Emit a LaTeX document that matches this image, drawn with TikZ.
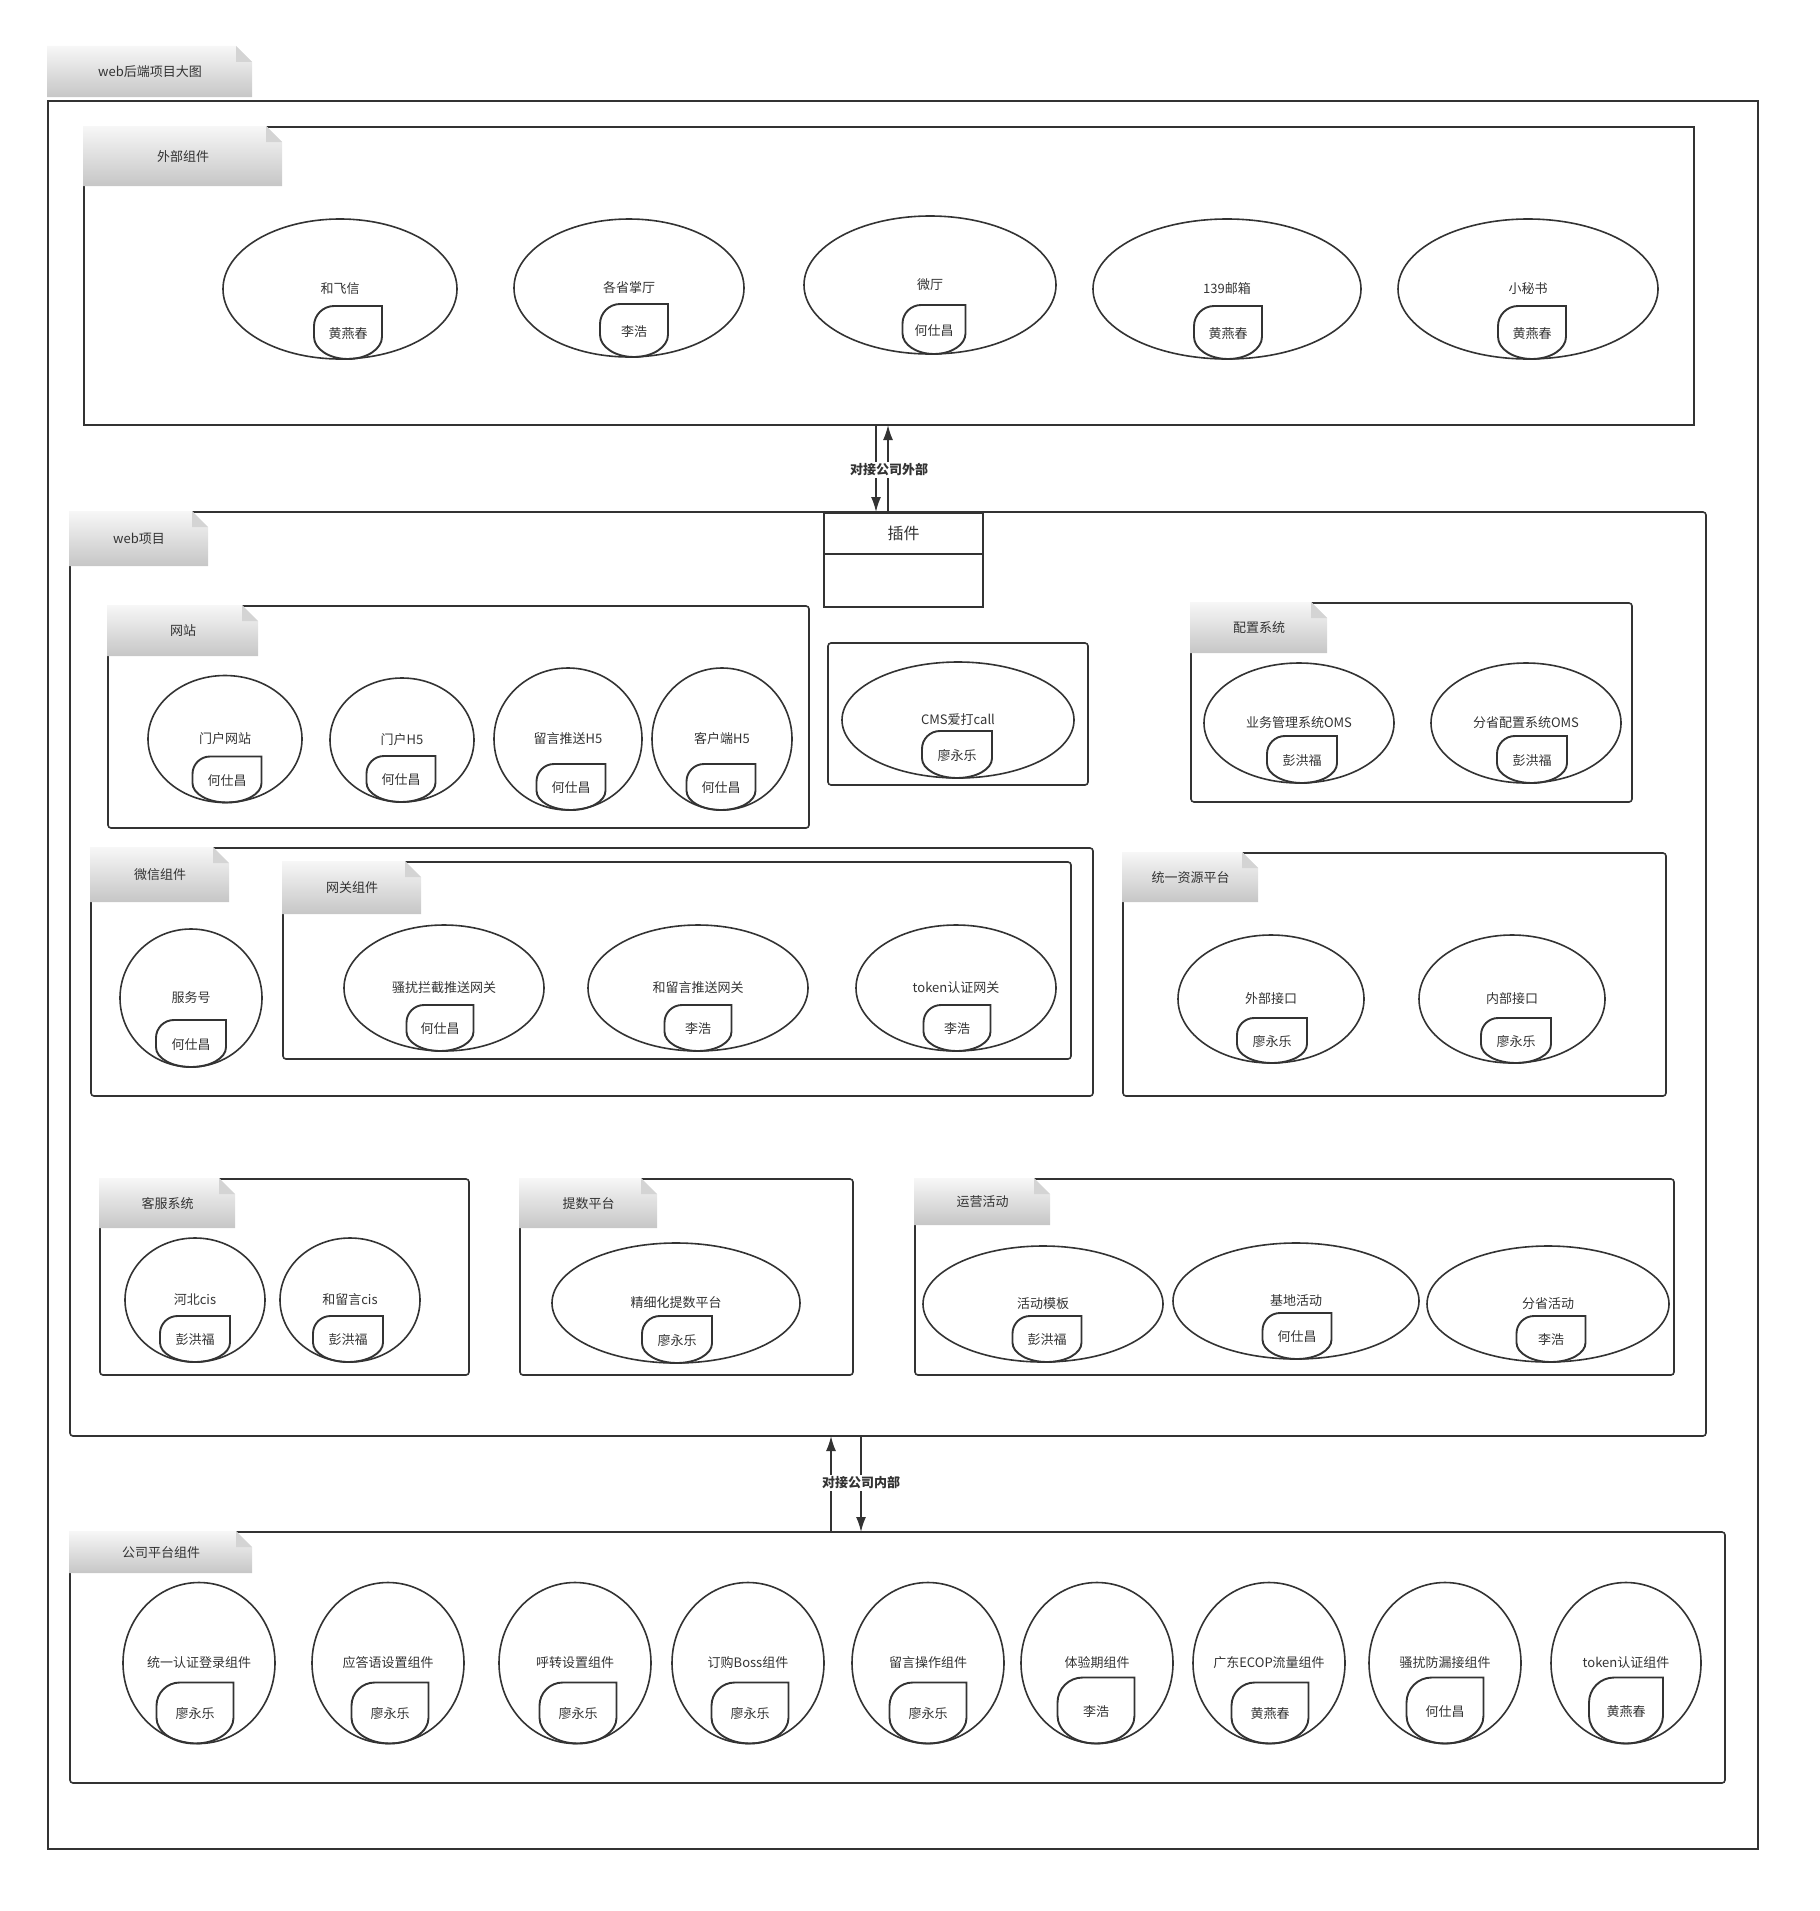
\documentclass[tikz,border=0pt]{standalone}
\usepackage{fontspec}
\setmainfont{Noto Sans CJK SC}
\usetikzlibrary{shapes.geometric,arrows.meta,calc}
\definecolor{ink}{RGB}{51,51,51}
\definecolor{tabtop}{RGB}{247,247,247}
\definecolor{tabbot}{RGB}{198,198,198}
\definecolor{tabfold}{RGB}{212,212,212}
\newcommand{\figfont}{\fontsize{13}{15}\selectfont}
\newcommand{\notetab}[6]{%
  \shade[top color=tabtop, bottom color=tabbot] ({#2-1},{#3-1}) -- ({#4-16},{#3-1}) -- (#4,{#3+15}) -- (#4,#5) -- ({#2-1},#5) -- cycle;
  \fill[tabfold] ({#4-16},{#3-1}) -- ({#4-16},{#3+15}) -- (#4,{#3+15}) -- cycle;
  \node[tabtext] (#1) at ({(#2+#4)/2},{(#3+#5)/2}) {#6};}
\newcommand{\owner}[5]{%
  \begin{scope}[shift={($(#1.south)+(#2,0)$)}]
  \draw[tagline] ({#3/2},{-#4}) -- ({#3/2},{-0.42*#4}) arc[start angle=0, end angle=180, x radius={#3/2}, y radius={0.42*#4}] -- ({-#3/2},{-0.62*#4}) arc[start angle=180, end angle=270, radius={0.38*#4}] -- cycle;
  \node[ownertext] (#1-o) at (0,{-#4/2+1}) {#5};
  \end{scope}}
\tikzset{
  frame/.style={draw=ink, line width=1.6pt, rounded corners=3pt, outer sep=0pt, inner sep=0pt, anchor=north west},
  comp/.style={ellipse, draw=ink, line width=1.6pt, outer sep=0pt, inner sep=0pt},
  tagline/.style={draw=ink, line width=1.9pt},
  ownertext/.style={font=\figfont, text=ink, inner sep=0pt},
  tabtext/.style={font=\figfont, text=ink, inner sep=0pt},
  plugbox/.style={draw=ink, line width=2pt, outer sep=0pt, inner sep=0pt, font=\fontsize{16}{18}\selectfont, text=ink},
  linklabel/.style={font=\figfont\bfseries, text=ink, fill=white, inner sep=1.5pt},
  arr/.style={draw=ink, line width=1.6pt, -{Latex[length=15pt,width=10pt]}},
  every label/.style={font=\figfont, text=ink, inner sep=0pt},
}
\begin{document}
\begin{tikzpicture}[x=1pt, y=-1pt]
\useasboundingbox (0,0) rectangle (1820,1911);
\node[frame, rounded corners=0pt, line width=2pt, minimum width=1710, minimum height=1748] (outer) at (48,101) {};
\node[frame, rounded corners=0pt, minimum width=1610, minimum height=298] (waibu) at (84,127) {};
\node[frame, minimum width=1636, minimum height=924] (web) at (70,512) {};
\node[frame, minimum width=701, minimum height=222] (wangzhan) at (108,606) {};
\node[frame, minimum width=260, minimum height=142] (cmsbox) at (828,643) {};
\node[frame, minimum width=441, minimum height=199] (peizhi) at (1191,603) {};
\node[frame, minimum width=1002, minimum height=248] (weixin) at (91,848) {};
\node[frame, minimum width=788, minimum height=197] (wangguan) at (283,862) {};
\node[frame, minimum width=543, minimum height=243] (ziyuan) at (1123,853) {};
\node[frame, minimum width=369, minimum height=196] (kefu) at (100,1179) {};
\node[frame, minimum width=333, minimum height=196] (tishu) at (520,1179) {};
\node[frame, minimum width=759, minimum height=196] (yunying) at (915,1179) {};
\node[frame, minimum width=1655, minimum height=251] (gongsi) at (70,1532) {};

\notetab{t-title}{48}{47}{252}{97}{web后端项目大图}
\notetab{t-waibu}{84}{127}{282}{186}{外部组件}
\notetab{t-web}{70}{512}{208}{566}{web项目}
\notetab{t-wz}{108}{606}{258}{656}{网站}
\notetab{t-pz}{1191}{603}{1327}{653}{配置系统}
\notetab{t-wx}{91}{848}{229}{902}{微信组件}
\notetab{t-wg}{283}{862}{421}{914}{网关组件}
\notetab{t-zy}{1123}{853}{1258}{902}{统一资源平台}
\notetab{t-kf}{100}{1179}{235}{1228}{客服系统}
\notetab{t-ts}{520}{1179}{657}{1228}{提数平台}
\notetab{t-yy}{915}{1179}{1050}{1225}{运营活动}
\notetab{t-gs}{70}{1532}{252}{1573}{公司平台组件}

\node[plugbox, anchor=north west, minimum width=159, minimum height=41] (plugin) at (824,513) {插件};
\node[plugbox, anchor=north, minimum width=159, minimum height=53] (pluginbody) at (plugin.south) {};

\coordinate (xdn) at (876,0);
\coordinate (xup) at (888,0);
\draw[arr] (waibu.south -| xdn) -- (web.north -| xdn);
\draw[arr] (web.north -| xup) -- (waibu.south -| xup);
\node[linklabel] (extlink) at (889,470) {对接公司外部};
\coordinate (xup2) at (831,0);
\coordinate (xdn2) at (861,0);
\draw[arr] (gongsi.north -| xup2) -- (web.south -| xup2);
\draw[arr] (web.south -| xdn2) -- (gongsi.north -| xdn2);
\node[linklabel] (intlink) at (861,1483) {对接公司内部};

\node[comp, minimum width=234, minimum height=140, label=center:和飞信] (hfx) at (340,289) {};
\owner{hfx}{8}{68}{53}{黄燕春}
\node[comp, minimum width=230, minimum height=138, label=center:各省掌厅] (gszt) at (629,288) {};
\owner{gszt}{5}{68}{53}{李浩}
\node[comp, minimum width=252, minimum height=138, label=center:微厅] (wt) at (930,285) {};
\owner{wt}{4}{63}{49}{何仕昌}
\node[comp, minimum width=268, minimum height=140, label=center:139邮箱] (mail) at (1227,289) {};
\owner{mail}{1}{68}{53}{黄燕春}
\node[comp, minimum width=260, minimum height=140, label=center:小秘书] (xms) at (1528,289) {};
\owner{xms}{4}{68}{53}{黄燕春}

\node[comp, minimum width=154, minimum height=127, label=center:门户网站] (mhwz) at (225,739) {};
\owner{mhwz}{2}{69}{46}{何仕昌}
\node[comp, minimum width=144, minimum height=124, label=center:门户H5] (mhh5) at (402,740) {};
\owner{mhh5}{-1}{69}{46}{何仕昌}
\node[comp, minimum width=148, minimum height=142, label=center:留言推送H5] (lyts) at (568,739) {};
\owner{lyts}{3}{69}{46}{何仕昌}
\node[comp, minimum width=140, minimum height=142, label=center:客户端H5] (khd) at (722,739) {};
\owner{khd}{-1}{69}{46}{何仕昌}

\node[comp, minimum width=232, minimum height=116, label=center:CMS爱打call] (cms) at (958,720) {};
\owner{cms}{-1}{70}{47}{廖永乐}
\node[comp, minimum width=190, minimum height=120, label=center:业务管理系统OMS] (oms) at (1299,723) {};
\owner{oms}{3}{70}{47}{彭洪福}
\node[comp, minimum width=190, minimum height=120, label=center:分省配置系统OMS] (sfoms) at (1526,723) {};
\owner{sfoms}{6}{70}{47}{彭洪福}

\node[comp, minimum width=142, minimum height=138, label=center:服务号] (fwh) at (191,998) {};
\owner{fwh}{0}{70}{47}{何仕昌}
\node[comp, minimum width=200, minimum height=126, label=center:骚扰拦截推送网关] (srlj) at (444,988) {};
\owner{srlj}{-4}{67}{46}{何仕昌}
\node[comp, minimum width=220, minimum height=126, label=center:和留言推送网关] (hlyts) at (698,988) {};
\owner{hlyts}{0}{67}{46}{李浩}
\node[comp, minimum width=200, minimum height=126, label=center:token认证网关] (tokenwg) at (956,988) {};
\owner{tokenwg}{1}{67}{46}{李浩}

\node[comp, minimum width=186, minimum height=128, label=center:外部接口] (wbjk) at (1271,999) {};
\owner{wbjk}{1}{70}{45}{廖永乐}
\node[comp, minimum width=186, minimum height=128, label=center:内部接口] (nbjk) at (1512,999) {};
\owner{nbjk}{4}{70}{45}{廖永乐}

\node[comp, minimum width=140, minimum height=124, label=center:河北cis] (hbcis) at (195,1300) {};
\owner{hbcis}{0}{70}{46}{彭洪福}
\node[comp, minimum width=140, minimum height=124, label=center:和留言cis] (hlycis) at (350,1300) {};
\owner{hlycis}{-2}{70}{46}{彭洪福}
\node[comp, minimum width=248, minimum height=120, label=center:精细化提数平台] (jxh) at (676,1303) {};
\owner{jxh}{1}{70}{47}{廖永乐}
\node[comp, minimum width=240, minimum height=116, label=center:活动模板] (hdmb) at (1043,1304) {};
\owner{hdmb}{4}{69}{46}{彭洪福}
\node[comp, minimum width=246, minimum height=116, label=center:基地活动] (jdhd) at (1296,1301) {};
\owner{jdhd}{1}{69}{46}{何仕昌}
\node[comp, minimum width=242, minimum height=116, label=center:分省活动] (sfhd) at (1548,1304) {};
\owner{sfhd}{3}{69}{46}{李浩}

\node[comp, minimum width=152, minimum height=161, label=center:统一认证登录组件] (tyrz) at (199,1663) {};
\owner{tyrz}{-4}{77}{61}{廖永乐}
\node[comp, minimum width=152, minimum height=161, label=center:应答语设置组件] (ydy) at (388,1663) {};
\owner{ydy}{2}{77}{61}{廖永乐}
\node[comp, minimum width=152, minimum height=161, label=center:呼转设置组件] (hzsz) at (575,1663) {};
\owner{hzsz}{3}{77}{61}{廖永乐}
\node[comp, minimum width=152, minimum height=161, label=center:订购Boss组件] (dgboss) at (748,1663) {};
\owner{dgboss}{2}{77}{61}{廖永乐}
\node[comp, minimum width=152, minimum height=161, label=center:留言操作组件] (lycz) at (928,1663) {};
\owner{lycz}{0}{77}{61}{廖永乐}
\node[comp, minimum width=152, minimum height=161, label=center:体验期组件] (tyq) at (1097,1663) {};
\owner{tyq}{-1}{77}{66}{李浩}
\node[comp, minimum width=152, minimum height=161, label=center:广东ECOP流量组件] (gdecop) at (1269,1663) {};
\owner{gdecop}{1}{77}{61}{黄燕春}
\node[comp, minimum width=152, minimum height=161, label=center:骚扰防漏接组件] (srflj) at (1445,1663) {};
\owner{srflj}{0}{77}{66}{何仕昌}
\node[comp, minimum width=150, minimum height=161, label=center:token认证组件] (tokenzj) at (1626,1663) {};
\owner{tokenzj}{0}{74}{66}{黄燕春}
\end{tikzpicture}
\end{document}
